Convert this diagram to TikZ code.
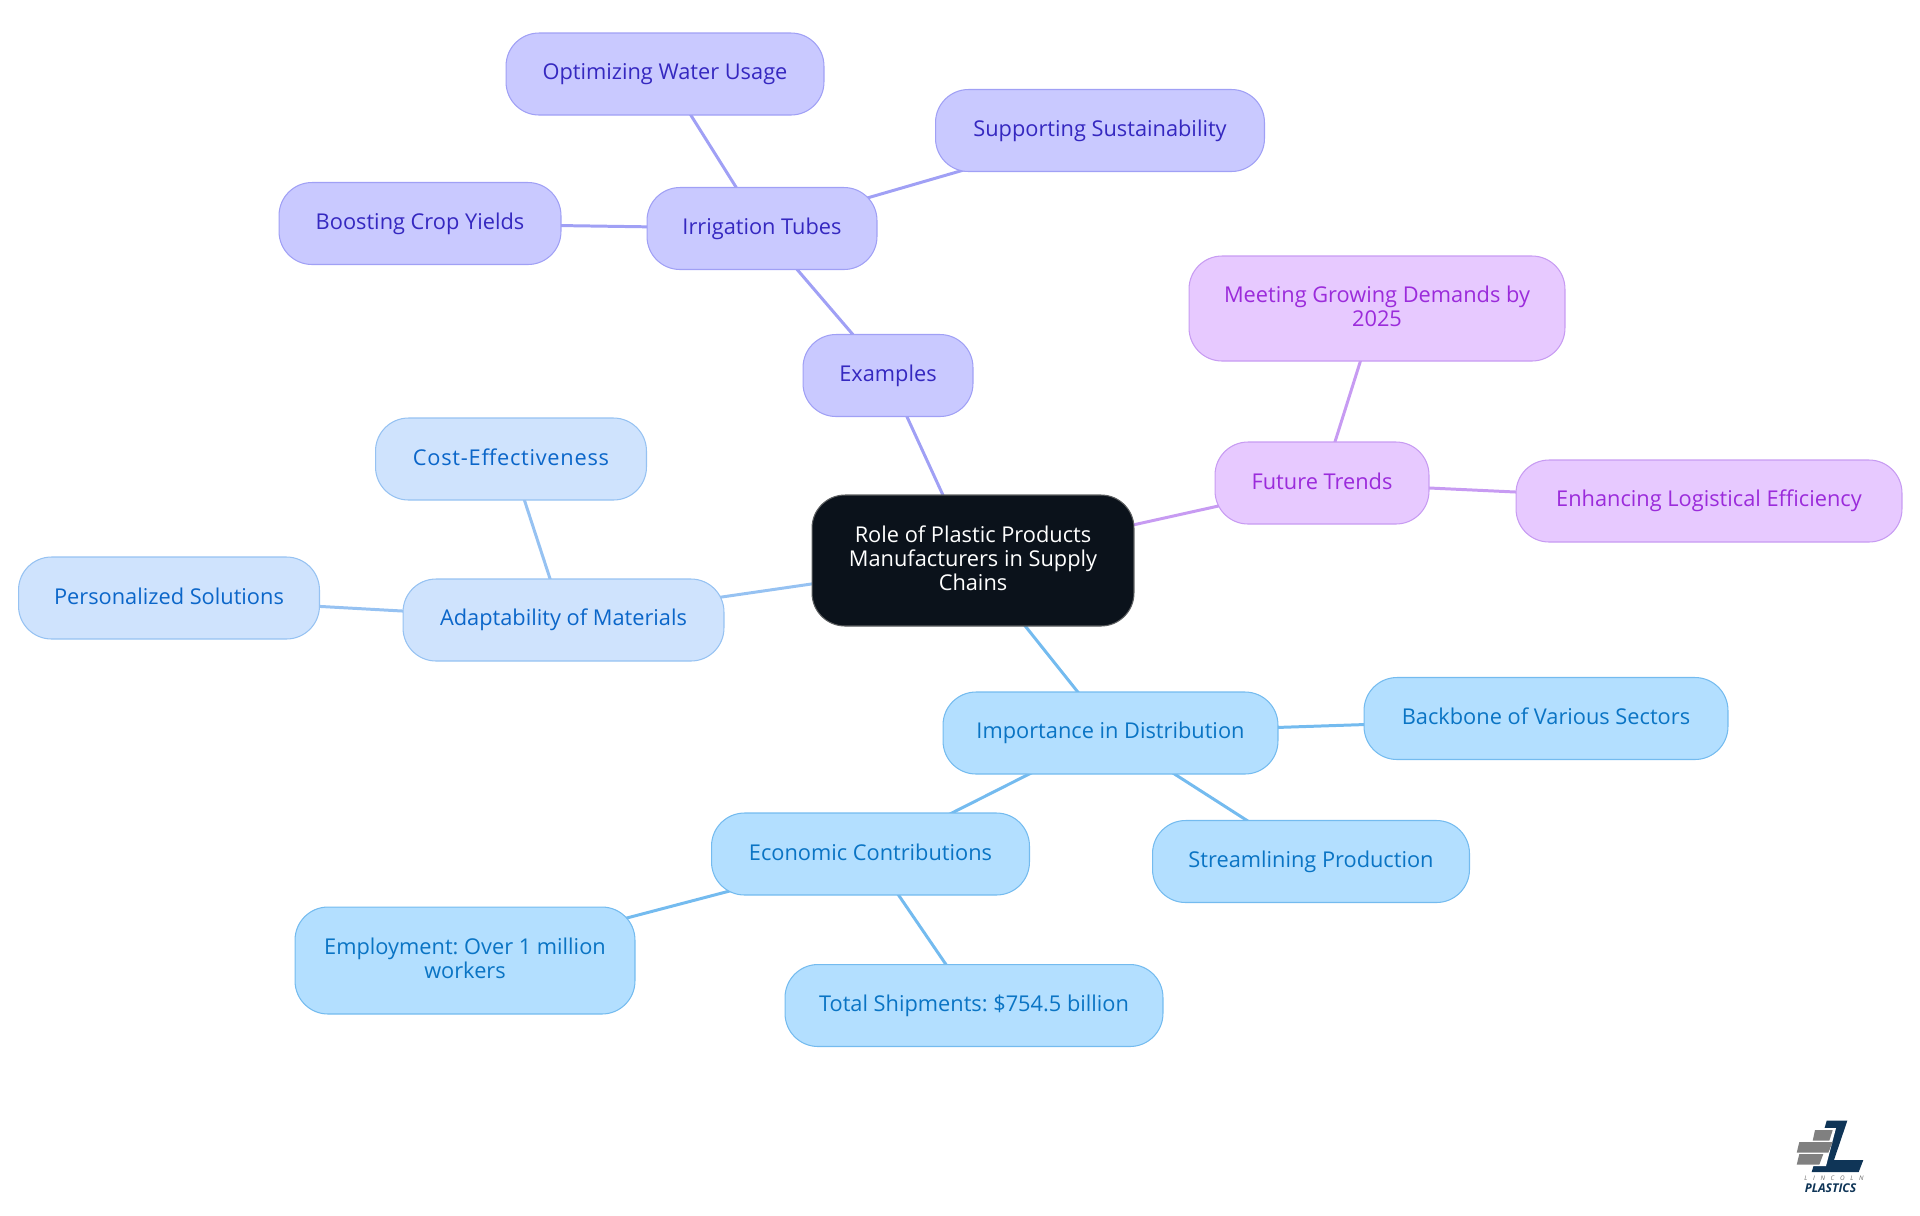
\documentclass[tikz,border=0pt]{standalone}
\usepackage{fontspec}
\setmainfont{Open Sans}
\usetikzlibrary{positioning,backgrounds}
\definecolor{rootfill}{HTML}{0B121B}
\definecolor{indigofill}{HTML}{C9C9FF}
\definecolor{indigoline}{HTML}{A0A0F5}
\definecolor{indigotext}{HTML}{3528C0}
\definecolor{bluefill}{HTML}{CFE3FD}
\definecolor{blueline}{HTML}{96C2F2}
\definecolor{bluetext}{HTML}{0B66C9}
\definecolor{skyfill}{HTML}{B3DFFF}
\definecolor{skyline}{HTML}{74BBEF}
\definecolor{skytext}{HTML}{0A74C4}
\definecolor{purplefill}{HTML}{E7C9FF}
\definecolor{purpleline}{HTML}{C79BF2}
\definecolor{purpletext}{HTML}{9B2BDB}
\definecolor{logonavy}{HTML}{0F3557}
\definecolor{logogray}{HTML}{6A6A6A}
\newcommand{\linestrut}{\rule[-2.5pt]{0pt}{11.7pt}}
\tikzset{
  topic/.style = {rectangle, rounded corners=.66cm, minimum height=1.64cm, align=center, inner sep=0pt, line width=.6pt, font=\fontsize{12.4}{13.6}\selectfont\frenchspacing, execute at begin node=\linestrut, execute at end node=\linestrut},
  indigonode/.style = {topic, fill=indigofill, draw=indigoline, text=indigotext},
  bluenode/.style = {topic, fill=bluefill, draw=blueline, text=bluetext},
  skynode/.style = {topic, fill=skyfill, draw=skyline, text=skytext},
  purplenode/.style = {topic, fill=purplefill, draw=purpleline, text=purpletext},
  rootnode/.style = {topic, fill=rootfill, draw=gray!70!rootfill, text=white},
  link/.style = {line width=1.7pt},
  brick/.style = {fill=logogray!85!white, draw=none}
}
\begin{document}
\begin{tikzpicture}[x=0.02cm,y=-0.02cm]
\useasboundingbox (0,0) rectangle (1920,1215);
\node[rootnode, minimum width=6.44cm, minimum height=2.62cm] (root) at (973,560.5) {Role of Plastic Products\\Manufacturers in Supply\\Chains};
% indigo branch
\node[indigonode, minimum width=3.4cm] (examples) at (888,375.5) {Examples};
\node[indigonode, minimum width=4.6cm] (irrigation) at (762,228.5) {Irrigation Tubes};
\node[indigonode, minimum width=6.36cm] (water) at (665,74) {Optimizing Water Usage};
\node[indigonode, minimum width=6.58cm] (sustain) at (1100,130.5) {Supporting Sustainability};
\node[indigonode, minimum width=5.64cm] (crop) at (420,223.5) {Boosting Crop Yields};
% purple branch
\node[purplenode, minimum width=4.28cm] (future) at (1322,483) {Future Trends};
\node[purplenode, minimum width=7.52cm, minimum height=2.1cm] (demands) at (1377,308.5) {Meeting Growing Demands by\\2025};
\node[purplenode, minimum width=7.72cm] (logistic) at (1709,501) {Enhancing Logistical Efficiency};
% blue branch
\node[bluenode, minimum width=6.42cm] (adapt) at (563.5,620) {Adaptability of Materials};
\node[bluenode, minimum width=5.42cm] (cost) at (511,459) {{\addfontfeature{LetterSpace=3.4}Cost-Effectiveness}};
\node[bluenode, minimum width=6.02cm] (personal) at (169,598) {Personalized Solutions};
% sky branch
\node[skynode, minimum width=6.7cm] (distrib) at (1110.5,733) {Importance in Distribution};
\node[skynode, minimum width=7.28cm] (backbone) at (1546,718.5) {Backbone of Various Sectors};
\node[skynode, minimum width=6.34cm] (stream) at (1311,861.5) {Streamlining Production};
\node[skynode, minimum width=6.36cm] (econ) at (870.5,854) {Economic Contributions};
\node[skynode, minimum width=6.8cm, minimum height=2.14cm] (employ) at (465,960.5) {Employment: Over 1 million\\workers};
\node[skynode, minimum width=7.56cm] (total) at (974,1005.5) {Total Shipments: \$754.5 billion};
\begin{scope}[on background layer]
\draw[link, indigoline] (root.center) -- (examples.center);
\draw[link, indigoline] (examples.center) -- (irrigation.center);
\draw[link, indigoline] (irrigation.center) -- (water.center);
\draw[link, indigoline] (irrigation.center) -- (sustain.center);
\draw[link, indigoline] (irrigation.center) -- (crop.center);
\draw[link, purpleline] (root.center) -- (future.center);
\draw[link, purpleline] (future.center) -- (demands.center);
\draw[link, purpleline] (future.center) -- (logistic.center);
\draw[link, blueline] (root.center) -- (adapt.center);
\draw[link, blueline] (adapt.center) -- (cost.center);
\draw[link, blueline] (adapt.center) -- (personal.center);
\draw[link, skyline] (root.center) -- (distrib.center);
\draw[link, skyline] (distrib.center) -- (backbone.center);
\draw[link, skyline] (distrib.center) -- (stream.center);
\draw[link, skyline] (distrib.center) -- (econ.center);
\draw[link, skyline] (econ.center) -- (employ.center);
\draw[link, skyline] (econ.center) -- (total.center);
\end{scope}
% logo
\fill[logonavy] (1826.7,1120.7) -- (1847.3,1120.7) -- (1834,1160) -- (1863.3,1160) -- (1858.7,1172) -- (1811.7,1172) -- cycle;
\fill[white] (1812,1128) -- (1836,1128) -- (1826,1166) -- (1790,1166) -- (1796,1140) -- cycle;
\fill[brick] (1815,1130) -- (1832.7,1130) -- (1829.3,1140.7) -- (1812.7,1140.7) -- cycle;
\fill[brick] (1799.3,1142) -- (1832.7,1142) -- (1828.3,1152.7) -- (1796.7,1152.7) -- cycle;
\fill[brick] (1799.3,1154) -- (1823.3,1154) -- (1819.3,1164.7) -- (1796.7,1164.7) -- cycle;
\node[inner sep=0pt, text=logogray, font=\fontsize{3.6}{4}\selectfont\itshape\addfontfeature{LetterSpace=90}] (lincoln) at (1834,1178.7) {LINCOLN};
\node[inner sep=0pt, text=logonavy, font=\fontsize{6.9}{7}\selectfont\bfseries\itshape] (plastics) at (1830.5,1188.5) {PLASTICS};
\end{tikzpicture}
\end{document}
